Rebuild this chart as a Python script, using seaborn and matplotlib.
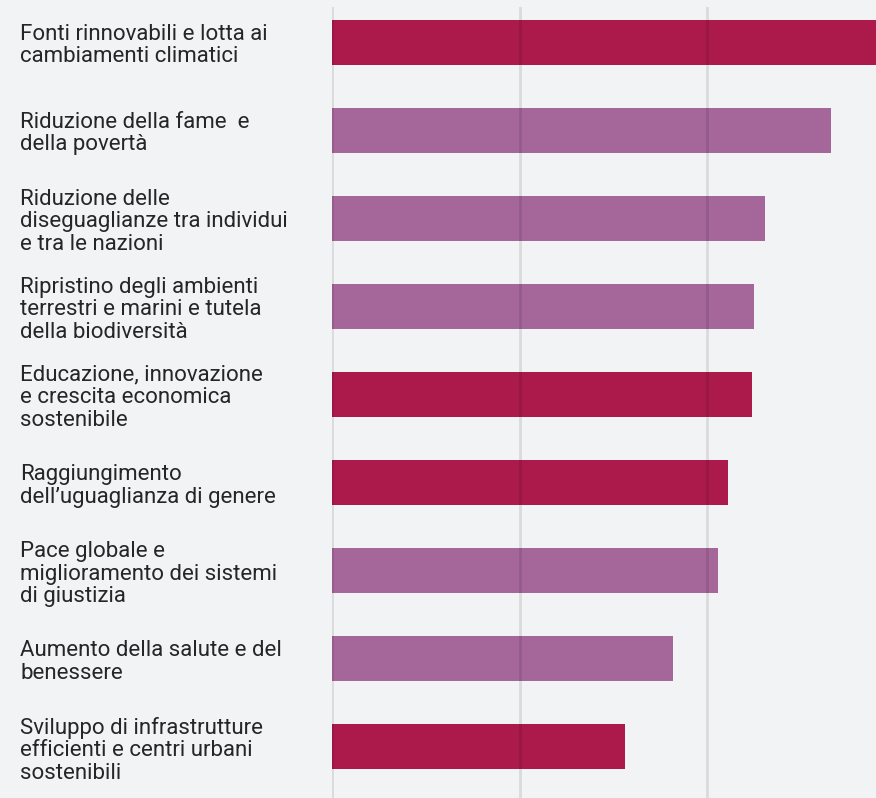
import matplotlib
matplotlib.use("Agg")
import matplotlib.pyplot as plt
import seaborn as sns
import pandas as pd

labels = [
    "Fonti rinnovabili e lotta ai\ncambiamenti climatici",
    "Riduzione della fame  e\ndella povertà",
    "Riduzione delle\ndiseguaglianze tra individui\ne tra le nazioni",
    "Ripristino degli ambienti\nterrestri e marini e tutela\ndella biodiversità",
    "Educazione, innovazione\ne crescita economica\nsostenibile",
    "Raggiungimento\ndell\u2019uguaglianza di genere",
    "Pace globale e\nmiglioramento dei sistemi\ndi giustizia",
    "Aumento della salute e del\nbenessere",
    "Sviluppo di infrastrutture\nefficienti e centri urbani\nsostenibili",
]
values = [29.3, 26.6, 23.1, 22.5, 22.4, 21.1, 20.6, 18.2, 15.6]
groups = ["a", "b", "b", "b", "a", "a", "b", "b", "a"]

bg = "#f2f3f5"
palette = {"a": "#ab1a4a", "b": "#a5669a"}

sns.set_theme(style="white")
plt.rcParams['font.family'] = ['Roboto', 'DejaVu Sans']

df = pd.DataFrame({"label": labels, "value": values, "group": groups})

fig = plt.figure(figsize=(8.76, 7.98), dpi=100, facecolor=bg)
ax = fig.add_axes([332 / 876, 0, (876 - 332) / 876, 791 / 798])
ax.set_facecolor(bg)

sns.barplot(data=df, y="label", x="value", hue="group", palette=palette,
            dodge=False, legend=False, width=0.51, saturation=1,
            linewidth=0, ax=ax)

ax.set_xlim(0, 29.0)
ax.set_ylim(8.58, -0.40)
ax.set_xticks([0, 10, 20])
ax.set_xticklabels([])
ax.grid(axis="x", color="black", alpha=0.1, linewidth=2.0)
ax.grid(axis="y", visible=False)
ax.set_axisbelow(False)
for s in ax.spines.values():
    s.set_visible(False)
ax.set_xlabel("")
ax.set_ylabel("")
ax.tick_params(axis="both", length=0)
ax.tick_params(axis="y", pad=312 * 72 / 100)
for t in ax.get_yticklabels():
    t.set_horizontalalignment("left")
    t.set_fontsize(16)
    t.set_color("#262626")
    t.set_linespacing(1.1)

fig.savefig("out.png", dpi=100, facecolor=bg)
